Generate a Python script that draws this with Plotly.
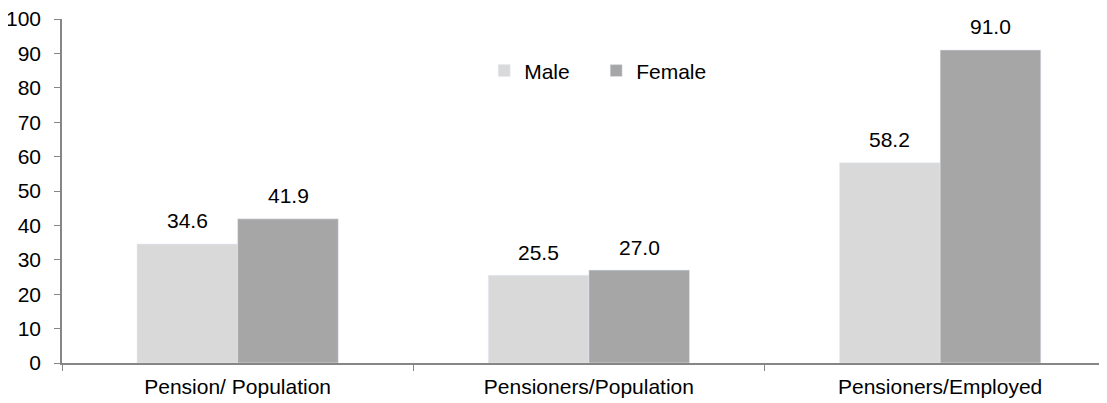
import plotly.graph_objects as go

categories = ["Pension/ Population", "Pensioners/Population", "Pensioners/Employed"]
male = [34.6, 25.5, 58.2]
female = [41.9, 27.0, 91.0]
y_ticks = list(range(0, 101, 10))

font = dict(family="Liberation Sans, Arial, sans-serif", size=21, color="#000000")

fig = go.Figure()
fig.add_trace(go.Bar(name="Male", x=categories, y=male, marker_color="#d9d9d9"))
fig.add_trace(go.Bar(name="Female", x=categories, y=female, marker_color="#a6a6a6"))

# value labels above bars
bar_half = 50.5
for vals, shift in ((male, -bar_half), (female, bar_half)):
    for c, v in zip(categories, vals):
        fig.add_annotation(x=c, y=v, text=f"{v:.1f}", showarrow=False,
                           xshift=shift, yshift=23, yanchor="middle", font=font)

fig.update_layout(
    width=1099, height=395,
    margin=dict(l=54, r=0, t=11, b=40),
    paper_bgcolor="white", plot_bgcolor="white",
    font=font,
    barmode="group", bargap=0.427, bargroupgap=0,
    showlegend=True,
    legend=dict(orientation="h", x=0.404, xanchor="left", y=0.849, yanchor="middle",
                font=font, itemwidth=30, entrywidth=67, bgcolor="rgba(0,0,0,0)"),
    xaxis=dict(range=[-0.5, 2.475], showline=True, linecolor="#868686", linewidth=1.5,
               ticks="outside", tickson="boundaries", ticklen=6, tickcolor="#868686",
               showgrid=False, tickfont=font, automargin=False, ticklabelstandoff=4,
               ticklabeloverflow="allow"),
    yaxis=dict(range=[0, 100], tickvals=y_ticks, showline=True, linecolor="#868686",
               linewidth=1.5, ticks="outside", ticklen=6, tickcolor="#868686",
               showgrid=False, zeroline=False, tickfont=font, automargin=False,
               ticklabelstandoff=9, ticklabeloverflow="allow"),
)

fig.write_html("out.html")
